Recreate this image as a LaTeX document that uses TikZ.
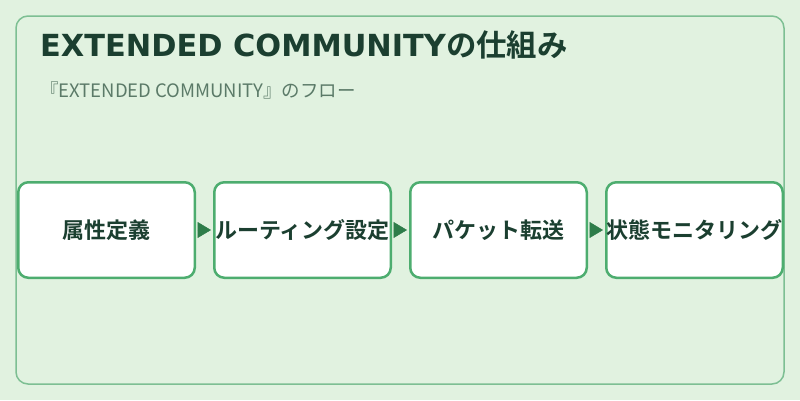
\documentclass[tikz,border=0pt]{standalone}
\usepackage{fontspec}
\setmainfont{Noto Sans CJK JP}
\newfontfamily\jpbold{Noto Sans CJK JP Bold}
\newfontfamily\latbold{DejaVu Sans Bold}
\usetikzlibrary{arrows.meta}
\definecolor{bgc}{HTML}{E1F2E0}
\definecolor{framec}{HTML}{7DBF93}
\definecolor{boxc}{HTML}{4DAD6F}
\definecolor{arrowc}{HTML}{2E7D4A}
\definecolor{titlec}{HTML}{1B3F30}
\definecolor{subc}{HTML}{5B7A68}
\tikzset{
  stepbox/.style={draw=boxc, line width=2.5pt, fill=white, rounded corners=10pt,
    minimum width=176.5pt, minimum height=95.5pt, inner sep=0pt,
    font=\jpbold\fontsize{22}{26}\selectfont, text=titlec},
  flowarrow/.style={draw=arrowc, fill=arrowc, line width=0.5pt, shorten <=1.5pt, shorten >=2pt,
    -{Triangle[length=13.5pt,width=16pt]}},
}
\begin{document}
\begin{tikzpicture}[x=1pt,y=-1pt]
\useasboundingbox[fill=bgc] (0,0) rectangle (800,400);
\draw[framec, line width=1.5pt, rounded corners=12pt] (16,16) rectangle (784,384);
\node[anchor=base west, inner sep=0pt, text=titlec, font=\fontsize{30.4}{34}\selectfont] (title) at (40,56) {\latbold EXTENDED COMMUNITY\jpbold の仕組み};
\node[anchor=base west, inner sep=0pt, text=subc, font=\fontsize{18.5}{22}\selectfont] (sub) at (40,97) {『EXTENDED COMMUNITY』のフロー};
\node[stepbox] (b1) at (106.5,230) {属性定義};
\node[stepbox] (b2) at (302.5,230) {ルーティング設定};
\node[stepbox] (b3) at (498.5,230) {パケット転送};
\node[stepbox] (b4) at (694.5,230) {状態モニタリング};
\draw[flowarrow] (b1.east) -- (b2.west);
\draw[flowarrow] (b2.east) -- (b3.west);
\draw[flowarrow] (b3.east) -- (b4.west);
\end{tikzpicture}
\end{document}
